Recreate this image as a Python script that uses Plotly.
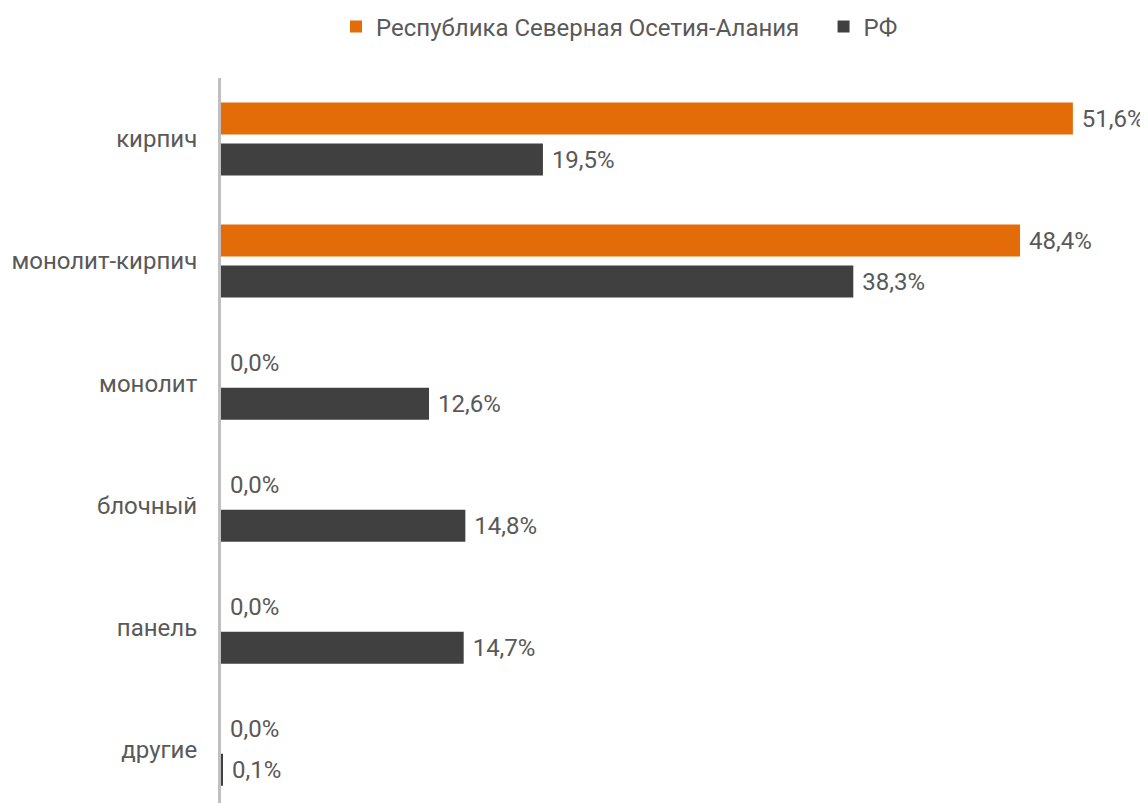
import plotly.graph_objects as go

categories = ["кирпич", "монолит-кирпич", "монолит", "блочный", "панель", "другие"]
series_names = ["Республика Северная Осетия-Алания", "РФ"]
osetia_values = [51.6, 48.4, 0.0, 0.0, 0.0, 0.0]
rf_values = [19.5, 38.3, 12.6, 14.8, 14.7, 0.1]

colors = ["#E36C09", "#404040"]
text_color = "#595959"
font_family = "Roboto"

# the page body has an 8px default margin, so the figure is sized to fill the rest
W, H = 1140, 795

# trailing spaces widen the gap between the two legend entries
legend_pad = ["\u00a0\u00a0\u2009\u200a", ""]

fig = go.Figure()
for name, pad, vals, col in zip(series_names, legend_pad, [osetia_values, rf_values], colors):
    fig.add_trace(go.Bar(
        y=categories, x=vals, name=name + pad, orientation="h",
        marker=dict(color=col, line=dict(width=0)),
        texttemplate="\u00a0%{x:.1f}%", textposition="outside",
        textfont=dict(size=24, color=text_color, family=font_family),
        cliponaxis=False,
    ))

fig.update_layout(
    width=W, height=H,
    margin=dict(l=213, r=0, t=70, b=0),
    paper_bgcolor="white", plot_bgcolor="white",
    barmode="group", bargap=0.328, bargroupgap=0.22,
    separators=", ",
    font=dict(family=font_family, size=24, color=text_color),
    legend=dict(orientation="h", xref="container", yref="container",
                x=328 / W, xanchor="left", y=1 - 19 / H, yanchor="middle",
                font=dict(size=24, color=text_color), itemwidth=30,
                traceorder="normal"),
    xaxis=dict(range=[0, 56.15], visible=False, showgrid=False, zeroline=False),
    yaxis=dict(type="category", range=[5.44, -0.5], showline=True,
               linecolor="#BFBFBF", linewidth=3, ticks="", showgrid=False,
               layer="above traces",
               ticklabelstandoff=16, tickfont=dict(size=24, color=text_color)),
)

fig.write_html("out.html")
